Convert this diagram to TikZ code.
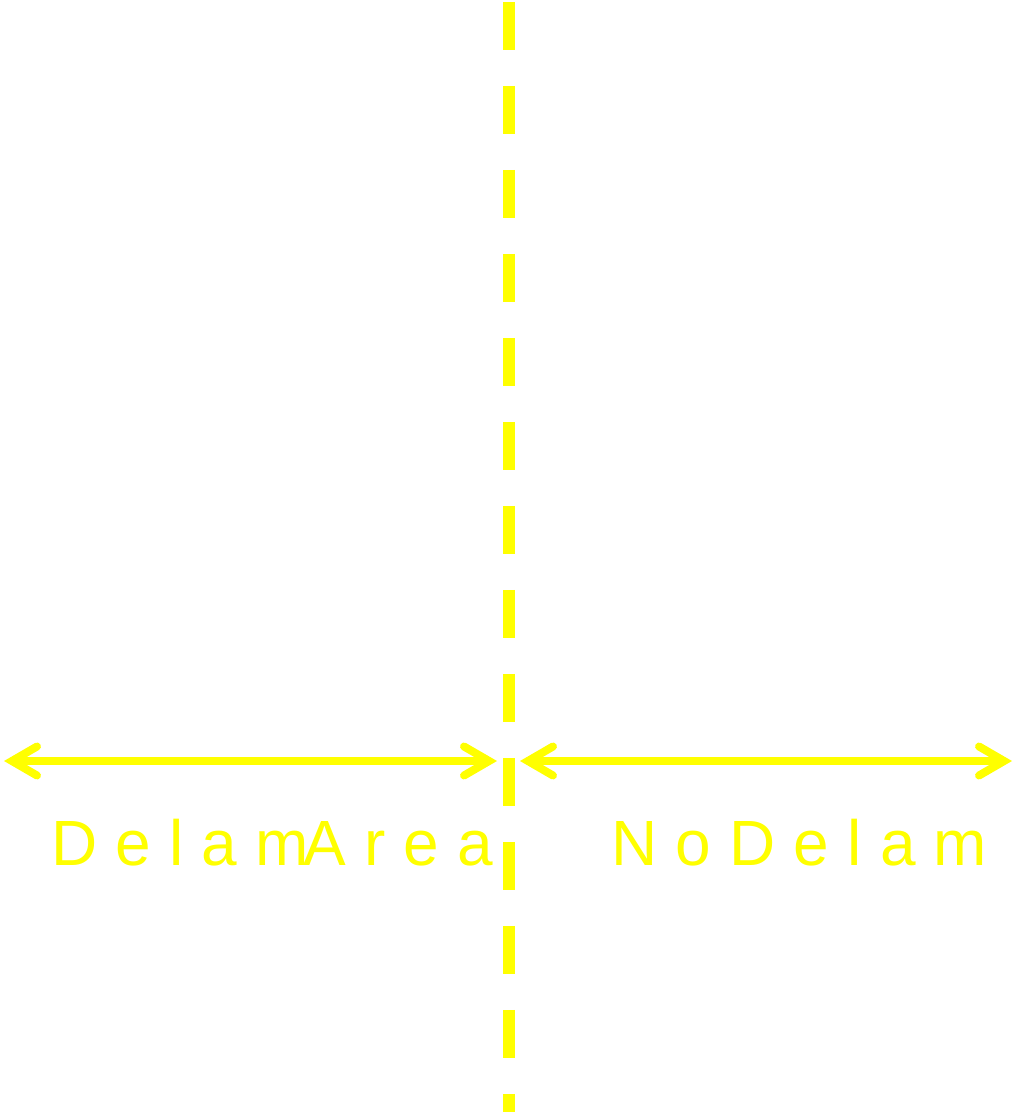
\documentclass[tikz,border=0pt]{standalone}
\usepackage{fontspec}
\setmainfont{Liberation Sans}
\newfontfamily\ritka[LetterSpace=28.5]{Liberation Sans}
\usetikzlibrary{arrows.meta}
\definecolor{sarga}{RGB}{255,255,0}
\tikzset{
  szagg/.style={line width=0.24cm,sarga,dash pattern=on 0.96cm off 0.72cm},
  hegy/.tip={Straight Barb[length=0.5cm,width=0.58cm,line cap=round,line join=miter]},
  nyil/.style={line width=0.16cm,sarga,{hegy}-{hegy}},
  felirat/.style={anchor=base west,inner sep=0pt,text=sarga,
    font=\ritka\fontsize{36.4pt}{40pt}\selectfont},
}
\begin{document}
\begin{tikzpicture}[x=0.02cm,y=-0.02cm]
  % hatter
  \fill[white] (0,0) rectangle (1015,1118);
  \useasboundingbox (0,0) rectangle (1015,1118);
  % hatarvonal
  \coordinate (fent) at (509,2);
  \coordinate (lent) at (509,1112);
  \draw[szagg] (fent) -- (lent);
  % nyilak vegpontjai
  \coordinate (b1) at (4,761);
  \coordinate (b2) at (497,761);
  \coordinate (j1) at (520,761);
  \coordinate (j2) at (1012,761);
  \draw[nyil] (b1) -- (b2);
  \draw[nyil] (j1) -- (j2);
  % feliratok
  \node[felirat] (delam) at (51,865) {Delam};
  \node[felirat] (area) at (303,865) {Area};
  \node[felirat] (nodelam) at (611,865) {NoDelam};
\end{tikzpicture}
\end{document}
